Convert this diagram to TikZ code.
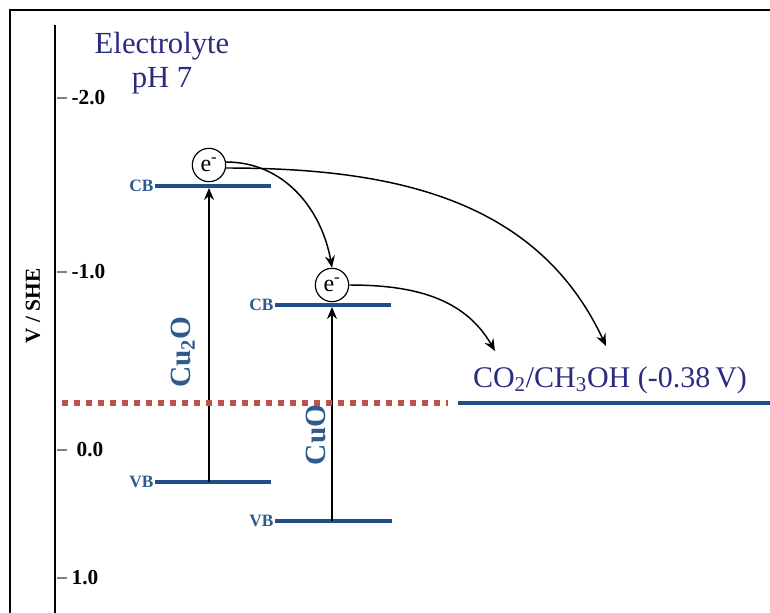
\documentclass[tikz,border=0pt]{standalone}
\usepackage{fontspec}
\setmainfont{Liberation Serif}
\usepackage{tikz}
\usetikzlibrary{arrows.meta,positioning,calc}

\definecolor{bandblue}{HTML}{1F4E89}
\definecolor{labelblue}{HTML}{2E5A8E}
\definecolor{navy}{HTML}{2B2B80}
\definecolor{redoxred}{HTML}{C0504D}

\begin{document}
\begin{tikzpicture}[x=0.75pt, y=-0.75pt,
  band/.style={line width=3.6pt, draw=bandblue},
  bandlabel/.style={text=labelblue, font=\bfseries\fontsize{13}{14}\selectfont, anchor=east, inner sep=1pt},
  tick/.style={gray, line width=1.2pt},
  ticklabel/.style={font=\bfseries\fontsize{16}{17}\selectfont, anchor=west, inner sep=1pt},
  electron/.style={circle, draw, line width=0.9pt, fill=white, minimum size=25pt, inner sep=0pt, font=\fontsize{18}{18}\selectfont},
  arrow/.style={-{Stealth[length=9pt, width=7.5pt, inset=3pt]}, line width=1.1pt},
  gap/.style={-{Stealth[length=9pt, width=7.5pt, inset=3pt]}, line width=0.9pt},
  oxide/.style={text=labelblue, font=\bfseries\fontsize{22}{24}\selectfont, rotate=90}
]
\useasboundingbox (0,0) rectangle (770,613);

% frame and axis
\draw[line width=2.2pt] (10,613) -- (10,10) -- (770,10);
\draw[line width=2.2pt] (55,25) -- (55,613);
\node[rotate=90, font=\bfseries\fontsize{16}{16}\selectfont] (axis) at (33,306) {V / SHE};

% ticks
\foreach \y/\v/\dx in {98/-2.0/0, 272/-1.0/0, 450/0.0/5, 578/1.0/0} {
  \draw[tick] (57,\y) -- (67,\y);
  \node[ticklabel] at (70+\dx,\y) {\v};
}

% electrolyte
\node[text=navy, font=\fontsize{23}{26}\selectfont, align=center] (elec) at (162,63) {Electrolyte\\pH 7};

% Cu2O bands
\coordinate (cbA) at (155,186);
\coordinate (cbB) at (271,186);
\coordinate (vbA) at (155,482);
\coordinate (vbB) at (271,482);
\draw[band] (cbA) -- (cbB);
\draw[band] (vbA) -- (vbB);
\node[bandlabel] at (cbA) {CB};
\node[bandlabel] at (vbA) {VB};
\coordinate (cuocb) at (209,188);
\coordinate (cuovb) at (209,482);
\draw[gap] (cuovb) -- (cuocb);
\node[oxide] (cu2o) at (183,352) {Cu\textsubscript{2}O};
\node[electron] (e1) at (209,165) {e\textsuperscript{-}};

% CuO bands
\coordinate (cbC) at (275,305);
\coordinate (cbD) at (391,305);
\coordinate (vbC) at (275,521);
\coordinate (vbD) at (392,521);
\draw[band] (cbC) -- (cbD);
\draw[band] (vbC) -- (vbD);
\node[bandlabel] at (cbC) {CB};
\node[bandlabel] at (vbC) {VB};
\coordinate (cocb) at (332,307);
\coordinate (covb) at (332,521);
\draw[gap] (covb) -- (cocb);
\node[oxide] (cuo) at (316,435) {CuO};
\node[electron] (e2) at (332,285) {e\textsuperscript{-}};

% redox level
\coordinate (redA) at (62,403);
\coordinate (redB) at (448,403);
\draw[redoxred, line width=4pt, dash pattern=on 4.5pt off 4.5pt] (redA) -- (redB);
\coordinate (redoxA) at (458,403);
\coordinate (redoxB) at (770,403);
\draw[band] (redoxA) -- (redoxB);
\node[text=navy, font=\fontsize{22.5}{24}\selectfont] (redox) at (610,380) {CO\textsubscript{2}/CH\textsubscript{3}OH (-0.38\,V)};
\coordinate (hitA) at (495,351);
\coordinate (hitB) at (606,346);

% electron transfer
\draw[arrow] (e1.10) to[out=0, in=100] (e2.north);
\draw[arrow] (e1.-10) to[out=0, in=115] (hitB);
\draw[arrow] (e2.east) to[out=0, in=120] (hitA);
\end{tikzpicture}
\end{document}
